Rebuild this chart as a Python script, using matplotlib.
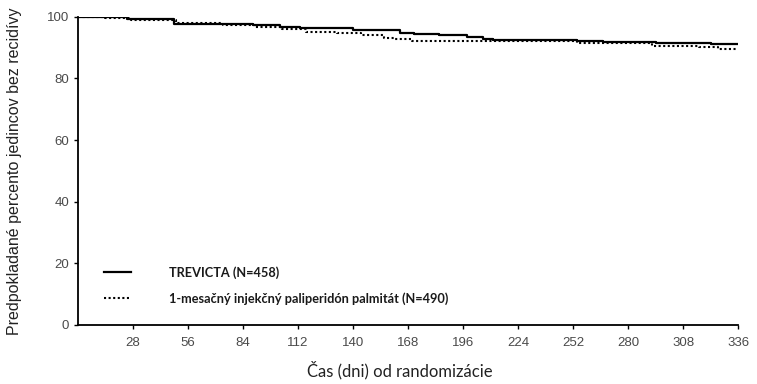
import matplotlib.pyplot as plt

# Kaplan-Meier odhady odčítané z obrázka (dni, percento bez recidívy)
trevicta_dni = [0, 25, 49, 74, 89, 103, 113, 140, 164, 171, 184, 198, 206, 211, 254, 267, 294, 322, 337]
trevicta_pct = [100, 99.4, 97.7, 97.6, 97.3, 96.8, 96.3, 95.8, 94.8, 94.5, 94.2, 93.6, 92.9, 92.5, 92.1, 91.9, 91.6, 91.1, 91.1]

pp1m_dni = [0, 14, 27, 50, 74, 90, 104, 116, 132, 144, 156, 161, 170, 254, 292, 306, 316, 326, 335]
pp1m_pct = [100, 99.6, 99.0, 98.0, 97.4, 96.6, 96.0, 95.1, 94.8, 94.1, 93.3, 92.9, 92.1, 91.4, 90.7, 90.4, 90.1, 89.6, 89.6]

x_ticks = [28, 56, 84, 112, 140, 168, 196, 224, 252, 280, 308, 336]
y_ticks = [0, 20, 40, 60, 80, 100]

fig = plt.figure(figsize=(7.57, 3.84), dpi=100)
ax = fig.add_axes([0.103, 0.154, 0.872, 0.802])

ax.step(trevicta_dni, trevicta_pct, where='post', color='black', lw=1.6,
        label='TREVICTA (N=458)')
ax.step(pp1m_dni, pp1m_pct, where='post', color='black', lw=1.5,
        linestyle=(0, (1, 1.2)),
        label='1-mesačný injekčný paliperidón palmitát (N=490)')

ax.set_xlim(0, 336)
ax.set_ylim(0, 100)
ax.set_xticks(x_ticks)
ax.set_yticks(y_ticks)
ax.tick_params(direction='out', length=3, width=1, colors='black',
               labelcolor='#4a4a4a', labelsize=9.5)
for lab in ax.get_xticklabels() + ax.get_yticklabels():
    lab.set_family('Liberation Sans')
ax.tick_params(axis='x', pad=6)
for s in ['top', 'right']:
    ax.spines[s].set_visible(False)
for s in ['left', 'bottom']:
    ax.spines[s].set_linewidth(1.3)

ax.set_ylabel('Predpokladané percento jedincov bez recidívy', fontsize=11.5,
              family='Liberation Sans', color='#222222', labelpad=18)
ax.set_xlabel('Čas (dni) od randomizácie', fontsize=12, family='Lato',
              color='#222222')
ax.xaxis.set_label_coords(0.488, -0.118)

leg = ax.legend(loc='lower left', bbox_to_anchor=(0.030, 0.045), frameon=False,
                prop={'family': 'Lato', 'size': 9.2, 'weight': 'bold'},
                handlelength=2.1, handletextpad=3.0, labelspacing=1.05, borderpad=0)
for t in leg.get_texts():
    t.set_color('#1a1a1a')

fig.savefig('out.png', dpi=100)
